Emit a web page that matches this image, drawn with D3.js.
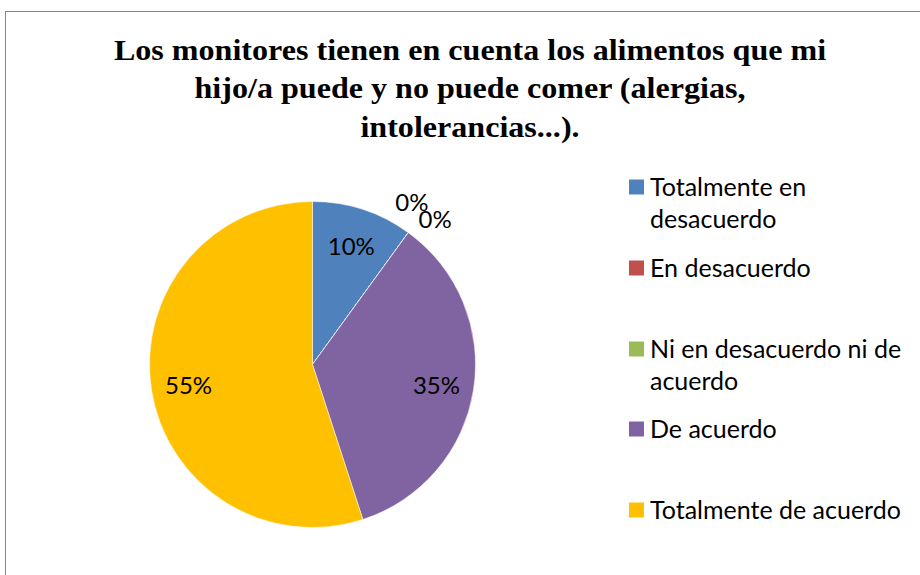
<!DOCTYPE html>
<html>
<head>
<meta charset="utf-8">
<script src="https://cdn.jsdelivr.net/npm/d3@7"></script>
<style>
  body { margin: 0; background: #fff; }
  svg { display: block; }
</style>
</head>
<body>
<svg></svg>
<script>
document.addEventListener("DOMContentLoaded", function () {
  // Chart data
  const titleLines = [
    "Los monitores tienen en cuenta los alimentos que mi",
    "hijo/a puede y no puede comer (alergias,",
    "intolerancias...)."
  ];
  const categories = [
    "Totalmente en desacuerdo",
    "En desacuerdo",
    "Ni en desacuerdo ni de acuerdo",
    "De acuerdo",
    "Totalmente de acuerdo"
  ];
  const values = [10, 0, 0, 35, 55];
  const legendLines = [
    ["Totalmente en", "desacuerdo"],
    ["En desacuerdo"],
    ["Ni en desacuerdo ni de", "acuerdo"],
    ["De acuerdo"],
    ["Totalmente de acuerdo"]
  ];
  const colors = ["#4F81BD", "#C0504D", "#9BBB59", "#8064A2", "#FFC000"];

  const w = 920;
  const h = 575;

  const svg = d3.select("svg")
    .attr("width", w)
    .attr("height", h);

  svg.append("rect")
    .attr("x", 5.5)
    .attr("y", 11.5)
    .attr("width", w + 10)
    .attr("height", h + 10)
    .attr("fill", "#fff")
    .attr("stroke", "#878787")
    .attr("stroke-width", 1);

  // Title (slightly widened serif, like the original)
  svg.append("g")
    .attr("transform", "translate(470,0) scale(1.07,1)")
    .selectAll("text")
    .data(titleLines)
    .enter()
    .append("text")
    .attr("x", 0)
    .attr("y", (d, i) => 60 + i * 38.5)
    .attr("text-anchor", "middle")
    .attr("font-family", "'Liberation Serif', 'Times New Roman', serif")
    .attr("font-weight", "bold")
    .attr("font-size", 30)
    .text((d) => d);

  // Pie
  const cx = 312.5, cy = 364.5, r = 163;
  const pie = d3.pie().sort(null).value((d) => d);
  const arcs = pie(values);
  const arc = d3.arc().innerRadius(0).outerRadius(r);
  const labelArc = d3.arc().innerRadius(r * 0.77).outerRadius(r * 0.77);

  const g = svg.append("g")
    .attr("transform", `translate(${cx},${cy})`);

  g.selectAll("path")
    .data(arcs)
    .enter()
    .append("path")
    .attr("d", arc)
    .attr("fill", (d, i) => colors[i])
    .attr("stroke", "#fff")
    .attr("stroke-width", 0.5);

  // Labels: zero slices pushed outside and spread apart
  let zeroCount = 0;
  g.selectAll("text")
    .data(arcs)
    .enter()
    .append("text")
    .attr("text-anchor", "middle")
    .attr("dominant-baseline", "central")
    .attr("font-family", "Lato, 'Open Sans', sans-serif")
    .attr("font-size", 24)
    .attr("fill", "#000")
    .attr("transform", (d) => {
      if (d.value === 0) {
        const a = d.startAngle + (zeroCount++ === 0 ? -0.08 : 0.07);
        const R = r * 1.17;
        return `translate(${R * Math.sin(a)},${-R * Math.cos(a)})`;
      }
      const c = labelArc.centroid(d);
      return `translate(${c[0]},${c[1]})`;
    })
    .text((d) => `${d.value}%`);

  // Legend
  const legendY = [187, 268, 349, 429, 510];
  const legend = svg.append("g")
    .selectAll("g")
    .data(categories)
    .enter()
    .append("g")
    .attr("transform", (d, i) => `translate(629,${legendY[i]})`);

  legend.append("rect")
    .attr("x", 0)
    .attr("y", -7.5)
    .attr("width", 15)
    .attr("height", 15)
    .attr("fill", (d, i) => colors[i]);

  legend.append("text")
    .attr("font-family", "Lato, 'Open Sans', sans-serif")
    .attr("font-size", 25)
    .attr("fill", "#000")
    .selectAll("tspan")
    .data((d, i) => legendLines[i])
    .enter()
    .append("tspan")
    .attr("x", 21)
    .attr("y", (d, j) => 8.5 + j * 32)
    .text((d) => d);
});
</script>
</body>
</html>
